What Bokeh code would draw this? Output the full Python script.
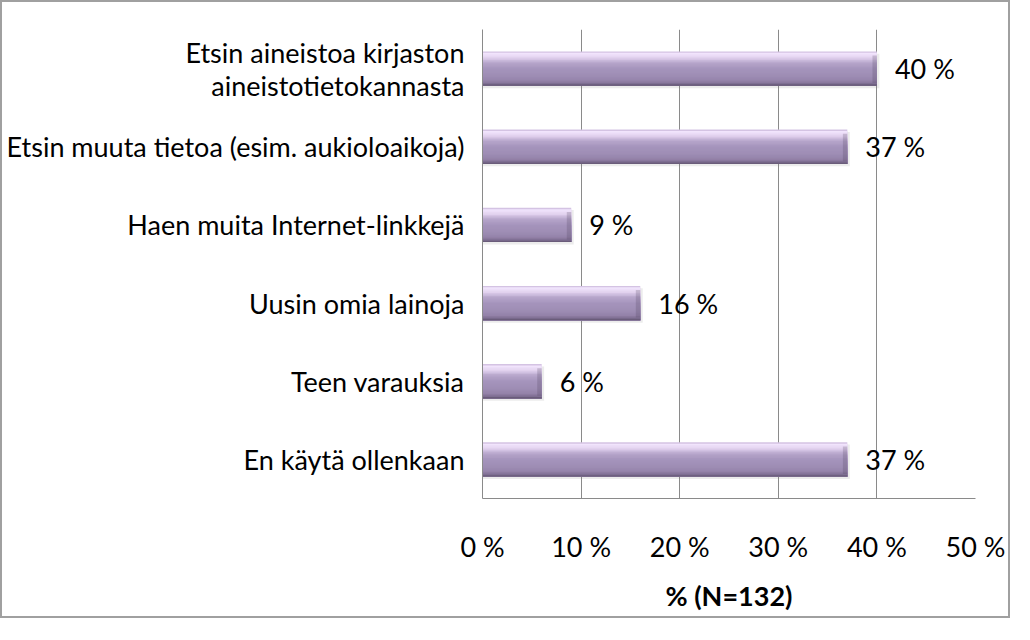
from bokeh.plotting import figure
from bokeh.models import FactorRange, Range1d, ColumnDataSource, PrintfTickFormatter
from bokeh.transform import dodge
from bokeh.core.properties import value
from bokeh.embed import file_html
from bokeh.resources import INLINE

categories = [
    "Etsin aineistoa kirjaston\naineistotietokannasta",
    "Etsin muuta tietoa (esim. aukioloaikoja)",
    "Haen muita Internet-linkkejä",
    "Uusin omia lainoja",
    "Teen varauksia",
    "En käytä ollenkaan",
]
values = [40, 37, 9, 16, 6, 37]
value_labels = ["40 %", "37 %", "9 %", "16 %", "6 %", "37 %"]
x_ticks = [0, 10, 20, 30, 40, 50]
x_title = "% (N=132)"

FONT = "Lato"
FS = "27px"
W, H = 1010, 618

p = figure(
    width=W, height=H,
    y_range=FactorRange(factors=list(reversed(categories))),
    x_range=Range1d(0, 50),
    output_backend="svg", toolbar_location=None,
    min_border_left=480, min_border_right=37,
    min_border_top=27, min_border_bottom=122,
)
p.styles = {"border": "2px solid #a0a0a0"}
p.outline_line_color = None
p.background_fill_color = "white"
p.border_fill_color = "white"

src = ColumnDataSource(dict(cat=categories, val=values, lab=value_labels))

BAR_H = 0.44
# soft shadow
p.hbar(y=dodge("cat", -0.03, range=p.y_range), left=0, right=dodge("val", 0.25), height=BAR_H,
       source=src, fill_color="#808080", fill_alpha=0.15, line_color=None)

stops = [(0.0, "#c4b2d6"), (0.06, "#f1e4fc"), (0.18, "#e3d3f0"), (0.33, "#b7a6cb"),
         (0.5, "#a594bc"), (0.72, "#9e8db4"), (0.86, "#9482a9"), (0.95, "#7b6b8e"), (1.0, "#5e516c")]

def interp(t):
    for (t0, c0), (t1, c1) in zip(stops[:-1], stops[1:]):
        if t0 <= t <= t1:
            f = (t - t0) / (t1 - t0) if t1 > t0 else 0
            a = [int(c0[i:i+2], 16) for i in (1, 3, 5)]
            b = [int(c1[i:i+2], 16) for i in (1, 3, 5)]
            return "#%02x%02x%02x" % tuple(round(a[k] + (b[k] - a[k]) * f) for k in range(3))
    return stops[-1][1]

# gradient: each strip spans from its top edge down to the bar bottom (no seams)
N = 24
sh = BAR_H / N
for i in range(N):
    t = (i + 0.5) / N
    top = BAR_H / 2 - i * sh
    bottom = -BAR_H / 2
    p.hbar(y=dodge("cat", (top + bottom) / 2, range=p.y_range), left=0, right="val",
           height=top - bottom, source=src, fill_color=interp(t), line_color=None)

# darker right bevel
p.hbar(y=dodge("cat", -0.01, range=p.y_range), left=dodge("val", -0.45), right="val",
       height=BAR_H * 0.8, source=src, fill_color="#4a3d58", fill_alpha=0.22, line_color=None)

p.text(x="val", y="cat", text="lab", source=src, x_offset=18,
       text_baseline="middle", text_align="left",
       text_font=value(FONT), text_font_size=FS, text_color="black")

p.xgrid.ticker = x_ticks
p.xgrid.grid_line_color = "#8a8a8a"
p.ygrid.grid_line_color = None

p.xaxis.ticker = x_ticks
p.xaxis.formatter = PrintfTickFormatter(format="%d %%")
p.xaxis.axis_line_color = "#8a8a8a"
p.xaxis.major_tick_line_color = None
p.xaxis.minor_tick_line_color = None
p.xaxis.major_tick_out = 0
p.xaxis.major_label_standoff = 31
p.xaxis.major_label_text_font = FONT
p.xaxis.major_label_text_font_size = FS
p.xaxis.major_label_text_color = "black"
p.xaxis.axis_label = x_title
p.xaxis.axis_label_text_font = FONT
p.xaxis.axis_label_text_font_size = FS
p.xaxis.axis_label_text_font_style = "bold"
p.xaxis.axis_label_text_color = "black"
p.xaxis.axis_label_standoff = 13

p.yaxis.axis_line_color = "#8a8a8a"
p.yaxis.major_tick_line_color = None
p.yaxis.minor_tick_line_color = None
p.yaxis.major_tick_out = 0
p.yaxis.major_label_standoff = 18
p.yaxis.major_label_text_font = FONT
p.yaxis.major_label_text_font_size = FS
p.yaxis.major_label_text_color = "black"
p.yaxis.major_label_text_line_height = 1.0

open("out.html", "w").write(file_html(p, INLINE))
